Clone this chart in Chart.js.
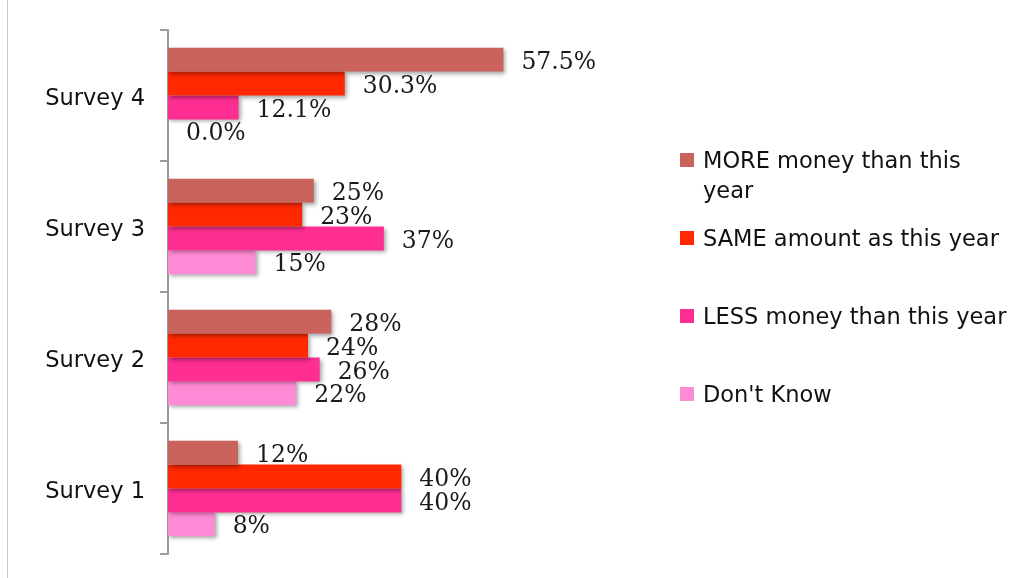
<!DOCTYPE html>
<html>
<head>
<meta charset="utf-8">
<script src="https://cdn.jsdelivr.net/npm/chart.js@4/dist/chart.umd.min.js"></script>
<style>
  html, body { margin: 0; padding: 0; background: #fff; }
  #wrap { position: relative; width: 1010px; height: 578px; }
  #edge { position: absolute; left: 7px; top: 0; width: 1px; height: 578px; background: #c9c9c9; }
  canvas { position: absolute; left: 0; top: 0; }
</style>
</head>
<body>
<div id="wrap">
  <div id="edge"></div>
  <canvas id="survey" width="1010" height="578"></canvas>
</div>
<script>
const surveys = ['Survey 4', 'Survey 3', 'Survey 2', 'Survey 1']
const decimals = [1, 0, 0, 0]
const moreMoney = [57.5, 25, 28, 12]
const sameAmount = [30.3, 23, 24, 40]
const lessMoney = [12.1, 37, 26, 40]
const dontKnow = [0.0, 15, 22, 8]
const seriesNames = ['MORE money than this year', 'SAME amount as this year', 'LESS money than this year', "Don't Know"]
const seriesColors = ['#c9635c', '#ff2800', '#ff2e92', '#ff8ad6']

const seriesValues = [moreMoney, sameAmount, lessMoney, dontKnow]
const sansFont = '"DejaVu Sans"'

// soft drop shadow under the bars
const barShadow = {
  id: 'barShadow',
  beforeDatasetsDraw(chart) {
    const ctx = chart.ctx
    ctx.save()
    ctx.shadowColor = 'rgba(0, 0, 0, 0.35)'
    ctx.shadowBlur = 4
    ctx.shadowOffsetX = 2
    ctx.shadowOffsetY = 2
  },
  afterDatasetsDraw(chart) {
    chart.ctx.restore()
  },
}

// percentage text at the end of each bar
const valueLabels = {
  id: 'valueLabels',
  afterDatasetsDraw(chart) {
    const ctx = chart.ctx
    ctx.save()
    ctx.font = '23.5px "DejaVu Serif"'
    ctx.fillStyle = '#1a1a1a'
    ctx.textAlign = 'left'
    ctx.textBaseline = 'middle'
    chart.data.datasets.forEach((ds, i) => {
      chart.getDatasetMeta(i).data.forEach((bar, j) => {
        const text = ds.data[j].toFixed(decimals[j]) + '%'
        ctx.fillText(text, bar.x + 18, bar.y + 3)
      })
    })
    ctx.restore()
  },
}

// category names, sitting a little below each band's centre
const categoryLabels = {
  id: 'categoryLabels',
  afterDraw(chart) {
    const ctx = chart.ctx
    const scale = chart.scales.y
    ctx.save()
    ctx.font = '22.5px ' + sansFont
    ctx.fillStyle = '#111'
    ctx.textAlign = 'right'
    ctx.textBaseline = 'middle'
    chart.data.labels.forEach((label, i) => {
      ctx.fillText(label, scale.right - 23, scale.getPixelForTick(i) + 4)
    })
    ctx.restore()
  },
}

// legend on the right, long names wrap onto a second line
const sideLegend = {
  id: 'sideLegend',
  afterDraw(chart) {
    const ctx = chart.ctx
    const left = 680
    const textX = 703
    const maxWidth = 308
    ctx.save()
    ctx.font = '22.5px ' + sansFont
    ctx.textBaseline = 'alphabetic'
    chart.data.datasets.forEach((ds, i) => {
      const top = 153 + i * 78
      ctx.fillStyle = ds.backgroundColor
      ctx.fillRect(left, top, 14, 14)

      const lines = []
      let line = ''
      ds.label.split(' ').forEach((word) => {
        const test = line ? line + ' ' + word : word
        if (line && ctx.measureText(test).width > maxWidth) {
          lines.push(line)
          line = word
        } else {
          line = test
        }
      })
      lines.push(line)

      ctx.fillStyle = '#111'
      lines.forEach((l, k) => ctx.fillText(l, textX, top + 15 + k * 30))
    })
    ctx.restore()
  },
}

new Chart(document.getElementById('survey'), {
  type: 'bar',
  data: {
    labels: surveys,
    datasets: seriesNames.map((name, i) => ({
      label: name,
      data: seriesValues[i],
      backgroundColor: seriesColors[i],
      borderWidth: 0,
      categoryPercentage: 0.73,
      barPercentage: 1,
    })),
  },
  options: {
    indexAxis: 'y',
    responsive: false,
    animation: false,
    devicePixelRatio: 1,
    layout: {
      padding: { top: 30, bottom: 24, left: 0, right: 492 },
    },
    scales: {
      x: {
        display: false,
        min: 0,
        max: 60,
      },
      y: {
        afterFit: (scale) => {
          scale.width = 168
        },
        border: { display: true, color: '#9b9b9b', width: 2 },
        grid: {
          drawOnChartArea: false,
          drawTicks: true,
          tickLength: 8,
          offset: true,
          color: '#9b9b9b',
          lineWidth: 2,
        },
        ticks: { display: false },
      },
    },
    plugins: {
      legend: { display: false },
      tooltip: { enabled: false },
    },
  },
  plugins: [barShadow, valueLabels, categoryLabels, sideLegend],
})
</script>
</body>
</html>
